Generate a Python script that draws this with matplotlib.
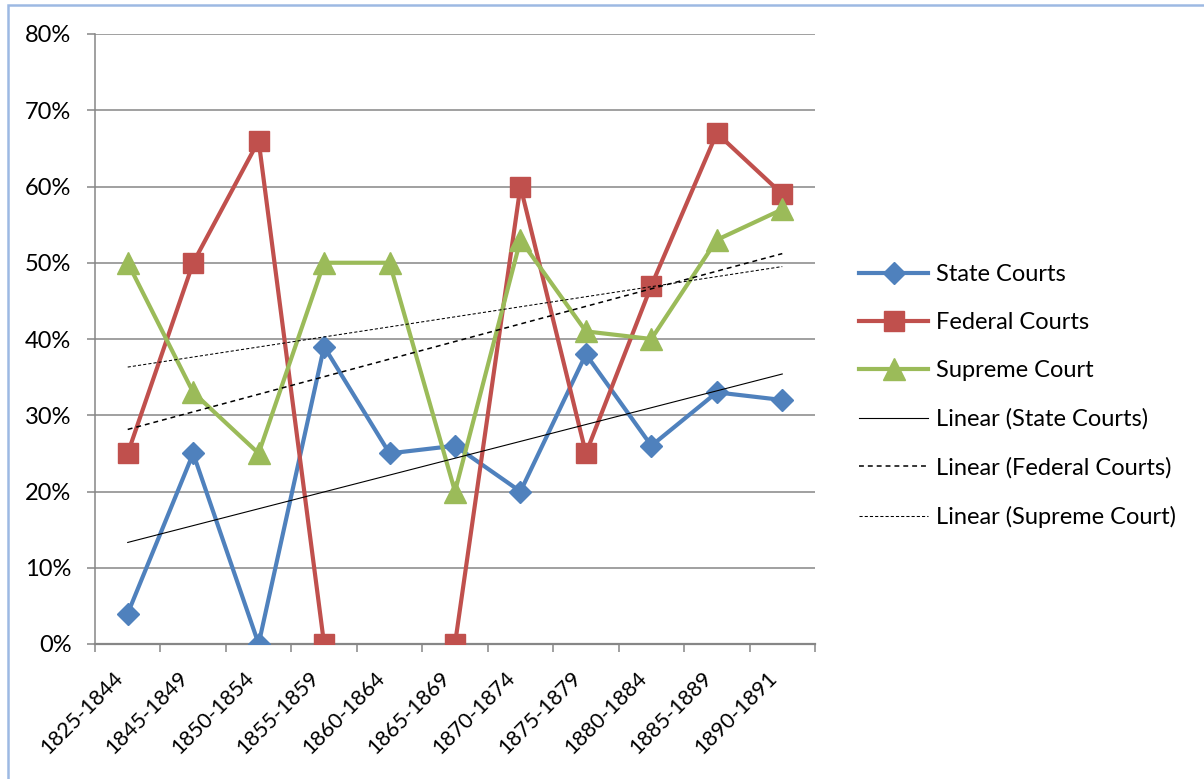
import numpy as np
import matplotlib
matplotlib.use('Agg')
import matplotlib.pyplot as plt
import matplotlib.transforms as mtransforms
from matplotlib.patches import Rectangle
from matplotlib.ticker import FuncFormatter

plt.rcParams['font.family'] = ['Lato', 'DejaVu Sans']

# 기간별 비율 (%)
periods = ['1825-1844', '1845-1849', '1850-1854', '1855-1859', '1860-1864', '1865-1869',
           '1870-1874', '1875-1879', '1880-1884', '1885-1889', '1890-1891']
state_courts = [4, 25, 0, 39, 25, 26, 20, 38, 26, 33, 32]
federal_courts = [25, 50, 66, 0, np.nan, 0, 60, 25, 47, 67, 59]   # 1860-1864 값 없음
supreme_court = [50, 33, 25, 50, 50, 20, 53, 41, 40, 53, 57]

fig = plt.figure(figsize=(12.04, 7.79), dpi=100)
ax = fig.add_axes([95 / 1204, 1 - 644 / 779, 720 / 1204, 610 / 779])

x = np.arange(1, len(periods) + 1)

# 1. 시리즈 선 그리기
ax.plot(x, state_courts, color='#4F81BD', lw=3, marker='D', ms=11.5,
        label='State Courts', zorder=3)
ax.plot(x, federal_courts, color='#C0504D', lw=3, marker='s', ms=14.5,
        label='Federal Courts', zorder=3)
ax.plot(x, supreme_court, color='#9BBB59', lw=3, marker='^', ms=16,
        label='Supreme Court', zorder=3)

# 2. 선형 추세선 (결측값 제외)
def linear_trend(values):
    v = np.array(values, dtype=float)
    ok = ~np.isnan(v)
    k, b = np.polyfit(x[ok], v[ok], 1)
    return k * x + b

ax.plot(x, linear_trend(state_courts), color='black', lw=0.8,
        label='Linear (State Courts)', zorder=4)
ax.plot(x, linear_trend(federal_courts), color='black', lw=1.1, dashes=(3.2, 2.6),
        label='Linear (Federal Courts)', zorder=4)
ax.plot(x, linear_trend(supreme_court), color='black', lw=0.75, dashes=(3, 2),
        label='Linear (Supreme Court)', zorder=4)

# 3. 축 설정
ax.set_xlim(0.5, len(periods) + 0.5)
ax.set_ylim(0, 80)
ax.set_yticks(range(0, 81, 10))
ax.yaxis.set_major_formatter(FuncFormatter(lambda v, p: f'{v:.0f}%'))
ax.grid(axis='y', color='#868686', lw=1.1, zorder=1)
ax.set_axisbelow(True)

ax.set_xticks(np.arange(0.5, len(periods) + 1, 1))
ax.set_xticklabels([])
ax.set_xticks(x, minor=True)
ax.set_xticklabels(periods, minor=True, rotation=45, ha='right', va='center',
                   rotation_mode='anchor', fontsize=15.5)
ax.tick_params(axis='x', which='major', length=6, width=1.1, color='#868686', direction='out')
ax.tick_params(axis='x', which='minor', length=0, pad=0)
ax.tick_params(axis='y', length=6, width=1.1, color='#868686', pad=11, labelsize=17)

offset = mtransforms.ScaledTranslation(-8 / 100, -31 / 100, fig.dpi_scale_trans)
for lbl in ax.get_xticklabels(minor=True):
    lbl.set_transform(lbl.get_transform() + offset)

for side in ['top', 'right']:
    ax.spines[side].set_visible(False)
ax.spines['left'].set_color('#868686')
ax.spines['left'].set_linewidth(1.1)
ax.spines['bottom'].set_color('#868686')
ax.spines['bottom'].set_linewidth(1.6)

# 4. 범례
leg = ax.legend(loc='center left', bbox_to_anchor=(850 / 1204, 1 - 396 / 779),
                bbox_transform=fig.transFigure, frameon=False, fontsize=17,
                handlelength=2.9, handletextpad=0.35, labelspacing=1.15,
                borderaxespad=0)

# 5. 바깥 테두리
fig.patches.append(Rectangle((7.5 / 1204, -0.05), 1.1, 1 - 4.5 / 779 + 0.05,
                             transform=fig.transFigure, fill=False,
                             edgecolor='#9DB9E3', lw=1.8))

fig.savefig('out.png', dpi=100)
